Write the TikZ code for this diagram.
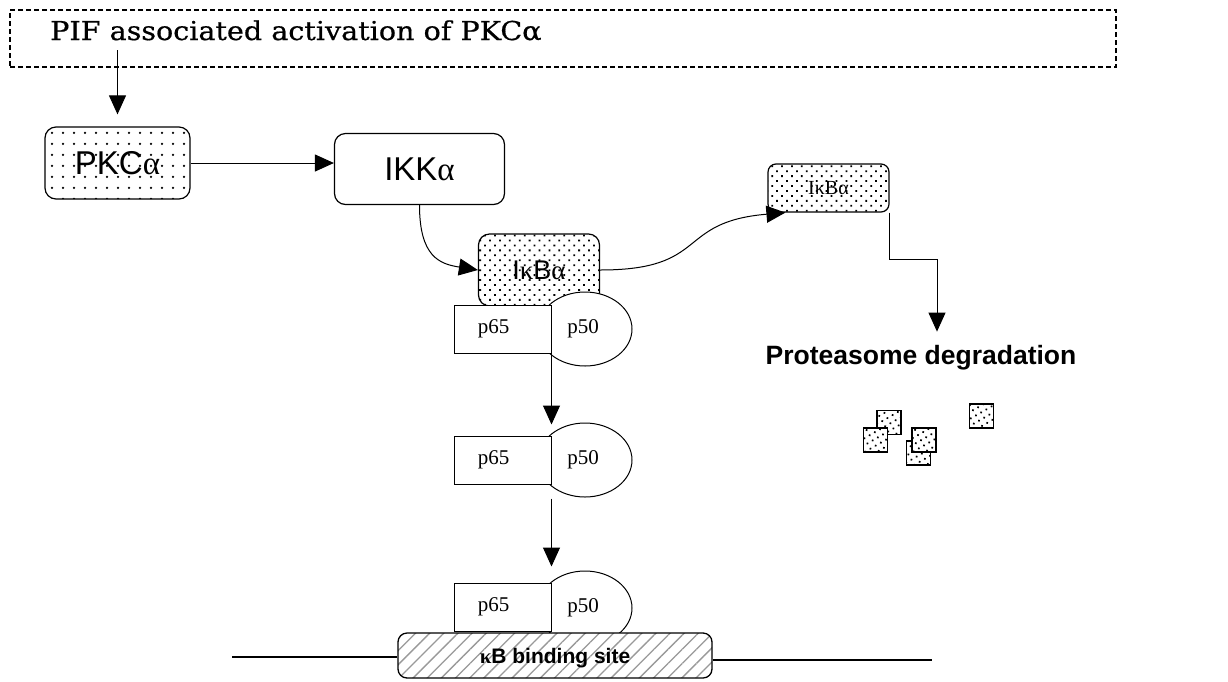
\documentclass[tikz,border=0pt]{standalone}
\usepackage{fontspec}
\setmainfont{Liberation Serif}
\setsansfont{Liberation Sans}
\newfontfamily\titlefont[FakeStretch=1.1,FakeBold=0.6]{DejaVu Serif}
\newfontfamily\grk{Liberation Serif}
\usetikzlibrary{arrows.meta,patterns.meta,calc,shapes.geometric}

\newcommand{\fsz}[1]{\fontsize{#1}{#1}\selectfont}
\newcommand{\al}{{\grk α}}
\newcommand{\ka}{{\grk κ}}

\tikzset{
  arr/.style={draw, line width=1pt, -{Triangle[length=19pt,width=17pt]}},
  frame/.style={draw, line width=1.1pt, dash pattern=on 5pt off 3pt, inner sep=0pt},
  sparsedots/.style={preaction={fill=white}, pattern={Dots[distance=10.5pt,radius=1.3pt]}},
  densedots/.style={preaction={fill=white}, pattern={Dots[distance=7pt,radius=1.25pt,angle=45]}},
  kinase/.style={draw, line width=1.2pt, rounded corners=11pt, inner sep=0pt,
    font=\sffamily\fsz{33}},
  subunit/.style={draw, line width=1pt, fill=white, inner sep=0pt,
    minimum width=97pt, minimum height=48pt, font=\fsz{21}},
  lobe/.style={draw, ellipse, line width=1pt, fill=white, inner sep=0pt,
    minimum width=94pt, minimum height=74pt, font=\fsz{21}},
  frag/.style={draw, line width=1.8pt, inner sep=0pt, minimum size=24pt,
    preaction={fill=white}, pattern={Dots[distance=6pt,radius=1.2pt,angle=30]}},
  site/.style={draw, line width=1.3pt, rounded corners=9pt, inner sep=0pt,
    preaction={fill=white}, pattern={Lines[angle=45,distance=10pt,line width=1.3pt]},
    pattern color=gray!80, font=\sffamily\bfseries\fsz{21}},
  dna/.style={draw, line width=1.1pt},
}

\begin{document}
\begin{tikzpicture}[x=1pt,y=-1pt]
\useasboundingbox (0,0) rectangle (1228,681);

% upstream signal
\node[frame, minimum width=1106pt, minimum height=57pt] (frame) at (563,38.5) {};
\node[anchor=base west, inner sep=0pt, font=\titlefont\fsz{26}] (title) at (50,40)
  {PIF associated activation of PKCα};

% kinase cascade
\node[kinase, sparsedots, minimum width=145pt, minimum height=72pt] (pkc) at (117.5,163) {PKC\al};
\node[kinase, fill=white, minimum width=170pt, minimum height=71pt] (ikk) at (419.5,169) {IKK\al};
\node[kinase, densedots, minimum width=121pt, minimum height=72pt, font=\sffamily\fsz{27}]
  (ikb) at (539,270) {I\ka B\al};
\node[kinase, densedots, rounded corners=8pt, minimum width=121pt, minimum height=48pt,
  font=\fsz{20}] (ikb2) at (828.5,188) {I\ka B\al};

\node[anchor=base, inner sep=0pt, font=\sffamily\bfseries\fsz{26.5}] (prot) at (921,364)
  {Proteasome degradation};

% NF-kB dimers
\node[lobe] (p50a) at (585,329) {p50\hspace*{4pt}};
\node[subunit] (p65a) at (502.5,329) {p65\hspace*{18pt}};
\node[lobe] (p50b) at (585,460) {p50\hspace*{4pt}};
\node[subunit] (p65b) at (502.5,460) {p65\hspace*{18pt}};
\node[lobe] (p50c) at (585,608) {p50\hspace*{4pt}};
\node[subunit] (p65c) at (502.5,607) {p65\hspace*{18pt}};

% DNA with binding site
\coordinate (dnaL) at (232,657);
\coordinate (dnaR) at (932,660);
\node[site, minimum width=314pt, minimum height=45pt] (site) at (555,655.5)
  {\raisebox{-7.5pt}[0pt][0pt]{\ka B binding site}};
\draw[dna] (dnaL) -- (site.west |- dnaL);
\draw[dna] (site.east |- dnaR) -- (dnaR);

% degraded fragments
\node[frag] (f1) at (889,422.5) {};
\node[frag] (f2) at (875.5,440) {};
\node[frag] (f3) at (918.5,453) {};
\node[frag] (f4) at (924,440) {};
\node[frag] (f5) at (981.5,416) {};

% connectors
\draw[arr] ($(pkc.north |- title.south)+(0,9)$) -- ($(pkc.north)+(0,-12)$);
\draw[arr] (pkc.east) -- (pkc.east -| ikk.west);
\draw[arr] (ikk.south) .. controls +(0,52) and +(-38,-6) .. (ikb.west);
\draw[arr] (ikb.east) .. controls (710,270) and (675,222) .. ($(ikb2.south west)+(18,0)$);
\draw[arr] (ikb2.south east) -- ++(0,47) -| ($(prot.north)+(16,-13)$);
\draw[arr] (p65a.south east) -- ($(p65b.north east)+(0,-11)$);
\draw[arr] ($(p65b.south east)+(0,14)$) -- ($(p65c.north east)+(0,-16)$);
\end{tikzpicture}
\end{document}
